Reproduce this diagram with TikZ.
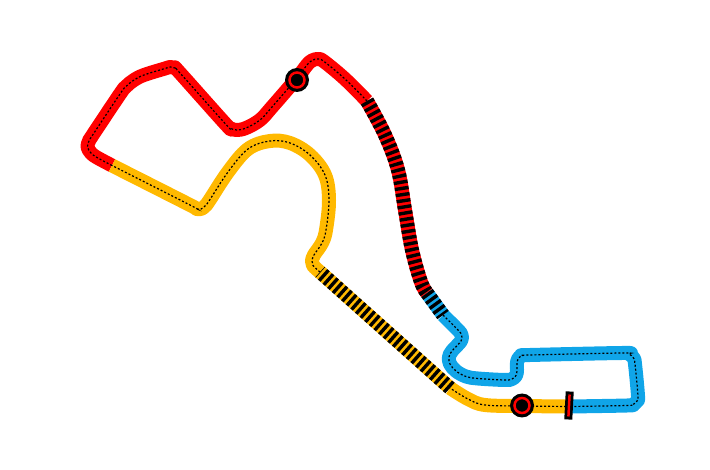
\documentclass[tikz,border=0pt]{standalone}
\definecolor{trkred}{HTML}{FF0000}
\definecolor{trkyel}{HTML}{FFB900}
\definecolor{trkblu}{HTML}{10A5E8}
\tikzset{
  band/.style={line width=14pt,line join=round},
  hatch/.style={line width=14pt,black,dash pattern=on 3.4pt off 2.8pt},
  centre/.style={line width=1.2pt,black,dash pattern=on 2pt off 2pt},
  marker/.style={circle,draw=trkred,line width=2.5pt,fill=black,minimum size=15pt,inner sep=0pt},
  markerbg/.style={circle,fill=black,minimum size=24pt,inner sep=0pt},
  startbg/.style={draw=none,fill=black,minimum width=8pt,minimum height=28pt,inner sep=0pt,rotate=-3},
  startln/.style={draw=none,fill=trkred,minimum width=2.5pt,minimum height=22pt,inner sep=0pt,rotate=-3}
}
\def\redA{(112,165.5)(97,157.5)(91,153)(87.5,147)(89,141)(93,134.5)(120,94)(126,86.5)(134,80)(144,75)(165,68.5)(170.5,67)(175,68)(180,73)(226,124.5)(231,128.5)(237,130)(246,128)(260,120)(272,107)(297,78)(307,65)(312,60.5)(318,59)(324,61.5)(345,79)(367,101)}
\def\redB{(367,101)(385,135)(398,170)(405,210)(412,250)(421,282)(427,293)}
\def\bluA{(427,293)(443,315)}
\def\bluB{(443,315)(458,330)(461.5,335)(461,341)(452,351)(449,357)(450,364)(456,371)(466,376.5)(478,378.5)(505,380)(512,379)(516,375.5)(517,370)(517,362)(518.5,358)(523,355.5)(530,355)(622,353)(629,354)(633.5,358)(635,364)(638,396)(637,401)(633,404.5)(627,405.5)(570,406.5)}
\def\yelA{(570,406.5)(522,406)(485,405)(468,399)(450,388)}
\def\yelB{(450,388)(320,272)}
\def\yelC{(320,272)(313,265.5)(312,261)(314,255)(322,243)(326,230)(329,200)(325,175)(310,155)(290,143)(270,141)(248,149)(228,172)(209,201)(205,206)(201,209)(196,208.5)(190,205)(112,165.5)}
\begin{document}
\begin{tikzpicture}[x=1pt,y=-1pt]
\useasboundingbox (0,0) rectangle (710,470);
\foreach \p/\c in {\redA/trkred,\redB/trkred,\bluA/trkblu,\bluB/trkblu,\yelA/trkyel,\yelB/trkyel,\yelC/trkyel}{
  \draw[band,\c] plot[smooth,tension=0.6] coordinates {\p};
}
\foreach \p in {\redB,\bluA,\yelB}{
  \draw[hatch] plot[smooth,tension=0.6] coordinates {\p};
}
\foreach \p in {\redA,\bluB,\yelA,\yelC}{
  \draw[centre] plot[smooth,tension=0.6] coordinates {\p};
}
\node[markerbg] (m1) at (297,80) {};
\node[marker] (m1i) at (297,80) {};
\node[markerbg] (m2) at (522,405.5) {};
\node[marker] (m2i) at (522,405.5) {};
\node[startbg] (s) at (569,405.5) {};
\node[startln] (si) at (569,405.5) {};
\end{tikzpicture}
\end{document}
